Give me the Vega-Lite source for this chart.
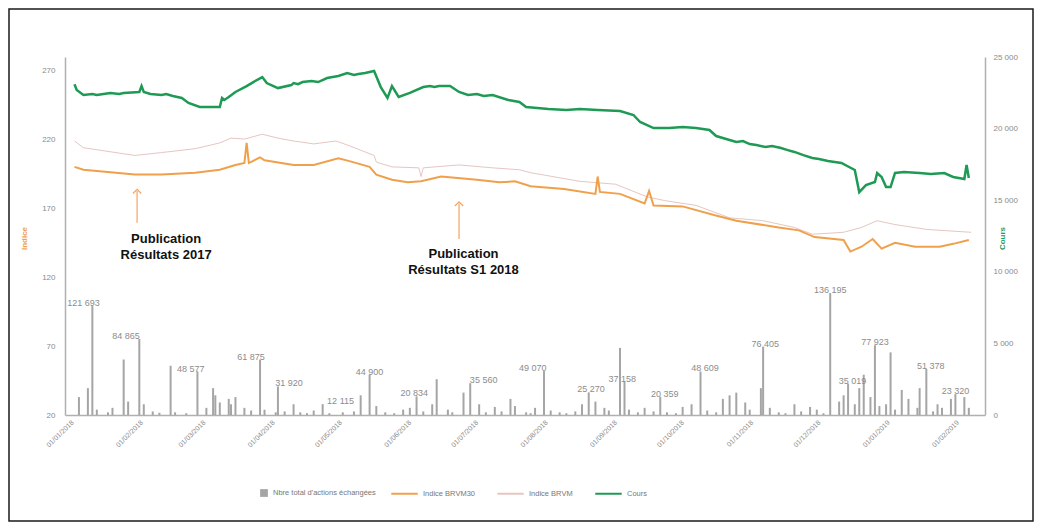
{
  "$schema": "https://vega.github.io/schema/vega-lite/v6.json",
  "width": 1024,
  "height": 512,
  "autosize": {"type": "none"},
  "padding": {"left": 9, "top": 9, "right": 9, "bottom": 10},
  "background": "white",
  "config": {
    "view": {"stroke": "#1a1a1a", "strokeWidth": 1.5},
    "locale": {"number": {"decimal": ",", "thousands": " ", "grouping": [3], "currency": ["", " €"]}},
    "font": "Liberation Sans"
  },
  "datasets": {
    "bars": [
      {"date": "2018-01-04", "vol": 20000}, {"date": "2018-01-08", "vol": 30000}, {"date": "2018-01-10", "vol": 121693, "lab": 1, "ldate": "2018-01-06"},
      {"date": "2018-01-12", "vol": 6000}, {"date": "2018-01-17", "vol": 3000}, {"date": "2018-01-19", "vol": 8000},
      {"date": "2018-01-24", "vol": 62000}, {"date": "2018-01-26", "vol": 15000}, {"date": "2018-01-31", "vol": 84865, "lab": 1, "ldate": "2018-01-25"},
      {"date": "2018-02-02", "vol": 12000}, {"date": "2018-02-06", "vol": 4000}, {"date": "2018-02-09", "vol": 2500},
      {"date": "2018-02-14", "vol": 55000}, {"date": "2018-02-16", "vol": 3000}, {"date": "2018-02-21", "vol": 2000},
      {"date": "2018-02-26", "vol": 48577, "lab": 1, "ldate": "2018-02-23"}, {"date": "2018-03-02", "vol": 8000}, {"date": "2018-03-05", "vol": 30000},
      {"date": "2018-03-06", "vol": 22000}, {"date": "2018-03-08", "vol": 14000}, {"date": "2018-03-12", "vol": 18000},
      {"date": "2018-03-13", "vol": 12000}, {"date": "2018-03-15", "vol": 20000}, {"date": "2018-03-19", "vol": 8000},
      {"date": "2018-03-22", "vol": 5000}, {"date": "2018-03-26", "vol": 61875, "lab": 1, "ldate": "2018-03-22"}, {"date": "2018-03-28", "vol": 6000},
      {"date": "2018-04-02", "vol": 3000}, {"date": "2018-04-03", "vol": 31920, "lab": 1, "ldate": "2018-04-08"}, {"date": "2018-04-06", "vol": 4000},
      {"date": "2018-04-10", "vol": 12000}, {"date": "2018-04-13", "vol": 3000}, {"date": "2018-04-16", "vol": 2000},
      {"date": "2018-04-19", "vol": 5000}, {"date": "2018-04-23", "vol": 12115, "lab": 1, "ldate": "2018-05-01"}, {"date": "2018-04-26", "vol": 2000},
      {"date": "2018-05-02", "vol": 3000}, {"date": "2018-05-07", "vol": 4000}, {"date": "2018-05-10", "vol": 22000},
      {"date": "2018-05-14", "vol": 44900, "lab": 1, "ldate": "2018-05-14"}, {"date": "2018-05-17", "vol": 10000}, {"date": "2018-05-21", "vol": 3000},
      {"date": "2018-05-25", "vol": 2000}, {"date": "2018-05-29", "vol": 6000}, {"date": "2018-06-01", "vol": 8000},
      {"date": "2018-06-04", "vol": 20834, "lab": 1, "ldate": "2018-06-03"}, {"date": "2018-06-07", "vol": 4000}, {"date": "2018-06-11", "vol": 12000},
      {"date": "2018-06-13", "vol": 40000}, {"date": "2018-06-18", "vol": 6000}, {"date": "2018-06-20", "vol": 3000},
      {"date": "2018-06-25", "vol": 25000}, {"date": "2018-06-28", "vol": 35560, "lab": 1, "ldate": "2018-07-04"}, {"date": "2018-07-02", "vol": 12000},
      {"date": "2018-07-05", "vol": 3000}, {"date": "2018-07-09", "vol": 9000}, {"date": "2018-07-12", "vol": 4000},
      {"date": "2018-07-16", "vol": 18000}, {"date": "2018-07-18", "vol": 10000}, {"date": "2018-07-23", "vol": 3000},
      {"date": "2018-07-25", "vol": 2000}, {"date": "2018-07-27", "vol": 8000}, {"date": "2018-07-31", "vol": 49070, "lab": 1, "ldate": "2018-07-26"},
      {"date": "2018-08-03", "vol": 5000}, {"date": "2018-08-07", "vol": 3000}, {"date": "2018-08-10", "vol": 2000},
      {"date": "2018-08-14", "vol": 4000}, {"date": "2018-08-17", "vol": 12000}, {"date": "2018-08-20", "vol": 25270, "lab": 1, "ldate": "2018-08-21"},
      {"date": "2018-08-23", "vol": 15000}, {"date": "2018-08-27", "vol": 8000}, {"date": "2018-08-29", "vol": 5000},
      {"date": "2018-09-03", "vol": 75000}, {"date": "2018-09-05", "vol": 37158, "lab": 1, "ldate": "2018-09-04"}, {"date": "2018-09-07", "vol": 6000},
      {"date": "2018-09-11", "vol": 3000}, {"date": "2018-09-14", "vol": 8000}, {"date": "2018-09-18", "vol": 4000},
      {"date": "2018-09-21", "vol": 20359, "lab": 1, "ldate": "2018-09-23"}, {"date": "2018-09-24", "vol": 3000}, {"date": "2018-09-28", "vol": 2000},
      {"date": "2018-10-01", "vol": 9000}, {"date": "2018-10-05", "vol": 12000}, {"date": "2018-10-09", "vol": 48609, "lab": 1, "ldate": "2018-10-11"},
      {"date": "2018-10-12", "vol": 5000}, {"date": "2018-10-16", "vol": 3000}, {"date": "2018-10-19", "vol": 18000},
      {"date": "2018-10-22", "vol": 22000}, {"date": "2018-10-25", "vol": 25000}, {"date": "2018-10-29", "vol": 14000},
      {"date": "2018-10-31", "vol": 6000}, {"date": "2018-11-05", "vol": 30000}, {"date": "2018-11-06", "vol": 76405, "lab": 1, "ldate": "2018-11-07"},
      {"date": "2018-11-09", "vol": 8000}, {"date": "2018-11-13", "vol": 3000}, {"date": "2018-11-16", "vol": 2000},
      {"date": "2018-11-20", "vol": 12000}, {"date": "2018-11-23", "vol": 4000}, {"date": "2018-11-27", "vol": 9000},
      {"date": "2018-11-30", "vol": 6000}, {"date": "2018-12-03", "vol": 2000}, {"date": "2018-12-06", "vol": 136195, "lab": 1, "ldate": "2018-12-06"},
      {"date": "2018-12-10", "vol": 15000}, {"date": "2018-12-12", "vol": 22000}, {"date": "2018-12-14", "vol": 35019, "lab": 1, "ldate": "2018-12-16"},
      {"date": "2018-12-17", "vol": 12000}, {"date": "2018-12-19", "vol": 30000}, {"date": "2018-12-21", "vol": 45000},
      {"date": "2018-12-24", "vol": 20000}, {"date": "2018-12-26", "vol": 77923, "lab": 1, "ldate": "2018-12-26"}, {"date": "2018-12-28", "vol": 10000},
      {"date": "2018-12-31", "vol": 12000}, {"date": "2019-01-02", "vol": 70000}, {"date": "2019-01-04", "vol": 6000},
      {"date": "2019-01-07", "vol": 28000}, {"date": "2019-01-10", "vol": 18000}, {"date": "2019-01-14", "vol": 8000},
      {"date": "2019-01-15", "vol": 30000}, {"date": "2019-01-18", "vol": 51378, "lab": 1, "ldate": "2019-01-20"}, {"date": "2019-01-21", "vol": 4000},
      {"date": "2019-01-23", "vol": 12000}, {"date": "2019-01-25", "vol": 8000}, {"date": "2019-01-29", "vol": 18000},
      {"date": "2019-01-31", "vol": 23320, "lab": 1, "ldate": "2019-01-31"}, {"date": "2019-02-04", "vol": 20000}, {"date": "2019-02-06", "vol": 8000}
    ],
    "lines": [
      {"serie": "Cours", "date": "2018-01-02", "v": 23100}, {"serie": "Cours", "date": "2018-01-03", "v": 22700},
      {"serie": "Cours", "date": "2018-01-06", "v": 22350}, {"serie": "Cours", "date": "2018-01-10", "v": 22420},
      {"serie": "Cours", "date": "2018-01-12", "v": 22350}, {"serie": "Cours", "date": "2018-01-15", "v": 22420},
      {"serie": "Cours", "date": "2018-01-18", "v": 22490}, {"serie": "Cours", "date": "2018-01-22", "v": 22420},
      {"serie": "Cours", "date": "2018-01-24", "v": 22490}, {"serie": "Cours", "date": "2018-01-31", "v": 22560},
      {"serie": "Cours", "date": "2018-02-01", "v": 22970}, {"serie": "Cours", "date": "2018-02-02", "v": 22560},
      {"serie": "Cours", "date": "2018-02-05", "v": 22420}, {"serie": "Cours", "date": "2018-02-10", "v": 22350},
      {"serie": "Cours", "date": "2018-02-12", "v": 22420}, {"serie": "Cours", "date": "2018-02-15", "v": 22280},
      {"serie": "Cours", "date": "2018-02-19", "v": 22140}, {"serie": "Cours", "date": "2018-02-22", "v": 21790},
      {"serie": "Cours", "date": "2018-02-27", "v": 21510}, {"serie": "Cours", "date": "2018-03-08", "v": 21510},
      {"serie": "Cours", "date": "2018-03-09", "v": 22140}, {"serie": "Cours", "date": "2018-03-10", "v": 22000},
      {"serie": "Cours", "date": "2018-03-12", "v": 22210}, {"serie": "Cours", "date": "2018-03-15", "v": 22560},
      {"serie": "Cours", "date": "2018-03-20", "v": 22970}, {"serie": "Cours", "date": "2018-03-23", "v": 23250},
      {"serie": "Cours", "date": "2018-03-27", "v": 23600}, {"serie": "Cours", "date": "2018-03-29", "v": 23180},
      {"serie": "Cours", "date": "2018-04-03", "v": 22830}, {"serie": "Cours", "date": "2018-04-09", "v": 23040},
      {"serie": "Cours", "date": "2018-04-10", "v": 23180}, {"serie": "Cours", "date": "2018-04-12", "v": 23100},
      {"serie": "Cours", "date": "2018-04-14", "v": 23250}, {"serie": "Cours", "date": "2018-04-18", "v": 23320},
      {"serie": "Cours", "date": "2018-04-21", "v": 23250}, {"serie": "Cours", "date": "2018-04-25", "v": 23530},
      {"serie": "Cours", "date": "2018-04-30", "v": 23670}, {"serie": "Cours", "date": "2018-05-04", "v": 23880},
      {"serie": "Cours", "date": "2018-05-07", "v": 23740}, {"serie": "Cours", "date": "2018-05-09", "v": 23810},
      {"serie": "Cours", "date": "2018-05-12", "v": 23880}, {"serie": "Cours", "date": "2018-05-16", "v": 24020},
      {"serie": "Cours", "date": "2018-05-19", "v": 22900}, {"serie": "Cours", "date": "2018-05-22", "v": 22140},
      {"serie": "Cours", "date": "2018-05-24", "v": 22970}, {"serie": "Cours", "date": "2018-05-27", "v": 22210},
      {"serie": "Cours", "date": "2018-06-01", "v": 22490}, {"serie": "Cours", "date": "2018-06-07", "v": 22900},
      {"serie": "Cours", "date": "2018-06-10", "v": 22970}, {"serie": "Cours", "date": "2018-06-12", "v": 22900},
      {"serie": "Cours", "date": "2018-06-14", "v": 22970}, {"serie": "Cours", "date": "2018-06-19", "v": 22970},
      {"serie": "Cours", "date": "2018-06-23", "v": 22560}, {"serie": "Cours", "date": "2018-06-27", "v": 22350},
      {"serie": "Cours", "date": "2018-07-01", "v": 22420}, {"serie": "Cours", "date": "2018-07-04", "v": 22280},
      {"serie": "Cours", "date": "2018-07-08", "v": 22350}, {"serie": "Cours", "date": "2018-07-15", "v": 22000},
      {"serie": "Cours", "date": "2018-07-20", "v": 21860}, {"serie": "Cours", "date": "2018-07-23", "v": 21510},
      {"serie": "Cours", "date": "2018-08-02", "v": 21370}, {"serie": "Cours", "date": "2018-08-10", "v": 21300},
      {"serie": "Cours", "date": "2018-08-16", "v": 21370}, {"serie": "Cours", "date": "2018-08-24", "v": 21300},
      {"serie": "Cours", "date": "2018-09-03", "v": 21230}, {"serie": "Cours", "date": "2018-09-09", "v": 20950},
      {"serie": "Cours", "date": "2018-09-12", "v": 20460}, {"serie": "Cours", "date": "2018-09-18", "v": 20040},
      {"serie": "Cours", "date": "2018-09-25", "v": 20040}, {"serie": "Cours", "date": "2018-10-01", "v": 20110},
      {"serie": "Cours", "date": "2018-10-07", "v": 20040}, {"serie": "Cours", "date": "2018-10-13", "v": 19900},
      {"serie": "Cours", "date": "2018-10-16", "v": 19480}, {"serie": "Cours", "date": "2018-10-22", "v": 19200},
      {"serie": "Cours", "date": "2018-10-25", "v": 19060}, {"serie": "Cours", "date": "2018-10-28", "v": 19130},
      {"serie": "Cours", "date": "2018-10-31", "v": 18920}, {"serie": "Cours", "date": "2018-11-03", "v": 18850},
      {"serie": "Cours", "date": "2018-11-07", "v": 18710}, {"serie": "Cours", "date": "2018-11-10", "v": 18780},
      {"serie": "Cours", "date": "2018-11-14", "v": 18640}, {"serie": "Cours", "date": "2018-11-17", "v": 18500},
      {"serie": "Cours", "date": "2018-11-20", "v": 18370}, {"serie": "Cours", "date": "2018-11-24", "v": 18150},
      {"serie": "Cours", "date": "2018-11-28", "v": 17950}, {"serie": "Cours", "date": "2018-12-01", "v": 17880},
      {"serie": "Cours", "date": "2018-12-05", "v": 17740}, {"serie": "Cours", "date": "2018-12-11", "v": 17600},
      {"serie": "Cours", "date": "2018-12-17", "v": 17110}, {"serie": "Cours", "date": "2018-12-19", "v": 15570},
      {"serie": "Cours", "date": "2018-12-22", "v": 16060}, {"serie": "Cours", "date": "2018-12-26", "v": 16270},
      {"serie": "Cours", "date": "2018-12-27", "v": 16900}, {"serie": "Cours", "date": "2018-12-29", "v": 16620},
      {"serie": "Cours", "date": "2018-12-31", "v": 15920}, {"serie": "Cours", "date": "2019-01-02", "v": 15920},
      {"serie": "Cours", "date": "2019-01-04", "v": 16900}, {"serie": "Cours", "date": "2019-01-08", "v": 16970},
      {"serie": "Cours", "date": "2019-01-15", "v": 16900}, {"serie": "Cours", "date": "2019-01-20", "v": 16830},
      {"serie": "Cours", "date": "2019-01-26", "v": 16900}, {"serie": "Cours", "date": "2019-01-30", "v": 16620},
      {"serie": "Cours", "date": "2019-02-04", "v": 16480}, {"serie": "Cours", "date": "2019-02-05", "v": 17460},
      {"serie": "Cours", "date": "2019-02-06", "v": 16550},

      {"serie": "Indice BRVM30", "date": "2018-01-02", "v": 200.2}, {"serie": "Indice BRVM30", "date": "2018-01-06", "v": 198.1},
      {"serie": "Indice BRVM30", "date": "2018-01-29", "v": 194.6}, {"serie": "Indice BRVM30", "date": "2018-02-10", "v": 194.6},
      {"serie": "Indice BRVM30", "date": "2018-02-25", "v": 196.0}, {"serie": "Indice BRVM30", "date": "2018-03-08", "v": 198.1},
      {"serie": "Indice BRVM30", "date": "2018-03-15", "v": 201.6}, {"serie": "Indice BRVM30", "date": "2018-03-19", "v": 203.0},
      {"serie": "Indice BRVM30", "date": "2018-03-20", "v": 217.6}, {"serie": "Indice BRVM30", "date": "2018-03-21", "v": 203.0},
      {"serie": "Indice BRVM30", "date": "2018-03-26", "v": 207.1}, {"serie": "Indice BRVM30", "date": "2018-03-28", "v": 205.0},
      {"serie": "Indice BRVM30", "date": "2018-04-10", "v": 201.6}, {"serie": "Indice BRVM30", "date": "2018-04-19", "v": 201.6},
      {"serie": "Indice BRVM30", "date": "2018-04-30", "v": 206.4}, {"serie": "Indice BRVM30", "date": "2018-05-05", "v": 204.4},
      {"serie": "Indice BRVM30", "date": "2018-05-14", "v": 200.2}, {"serie": "Indice BRVM30", "date": "2018-05-17", "v": 194.6},
      {"serie": "Indice BRVM30", "date": "2018-05-24", "v": 190.8}, {"serie": "Indice BRVM30", "date": "2018-05-31", "v": 189.0},
      {"serie": "Indice BRVM30", "date": "2018-06-06", "v": 189.7}, {"serie": "Indice BRVM30", "date": "2018-06-15", "v": 193.2},
      {"serie": "Indice BRVM30", "date": "2018-07-01", "v": 190.8}, {"serie": "Indice BRVM30", "date": "2018-07-11", "v": 189.0},
      {"serie": "Indice BRVM30", "date": "2018-07-18", "v": 189.7}, {"serie": "Indice BRVM30", "date": "2018-07-25", "v": 186.2},
      {"serie": "Indice BRVM30", "date": "2018-08-09", "v": 184.1}, {"serie": "Indice BRVM30", "date": "2018-08-23", "v": 180.6},
      {"serie": "Indice BRVM30", "date": "2018-08-24", "v": 193.2}, {"serie": "Indice BRVM30", "date": "2018-08-25", "v": 182.0},
      {"serie": "Indice BRVM30", "date": "2018-09-03", "v": 180.6}, {"serie": "Indice BRVM30", "date": "2018-09-14", "v": 173.6},
      {"serie": "Indice BRVM30", "date": "2018-09-16", "v": 182.7}, {"serie": "Indice BRVM30", "date": "2018-09-18", "v": 172.2},
      {"serie": "Indice BRVM30", "date": "2018-10-01", "v": 171.5}, {"serie": "Indice BRVM30", "date": "2018-10-15", "v": 165.2},
      {"serie": "Indice BRVM30", "date": "2018-10-25", "v": 161.1}, {"serie": "Indice BRVM30", "date": "2018-11-13", "v": 156.2},
      {"serie": "Indice BRVM30", "date": "2018-11-22", "v": 154.1}, {"serie": "Indice BRVM30", "date": "2018-11-29", "v": 149.2},
      {"serie": "Indice BRVM30", "date": "2018-12-12", "v": 147.1}, {"serie": "Indice BRVM30", "date": "2018-12-15", "v": 138.7},
      {"serie": "Indice BRVM30", "date": "2018-12-20", "v": 142.2}, {"serie": "Indice BRVM30", "date": "2018-12-25", "v": 147.8},
      {"serie": "Indice BRVM30", "date": "2018-12-29", "v": 140.8}, {"serie": "Indice BRVM30", "date": "2019-01-04", "v": 145.0},
      {"serie": "Indice BRVM30", "date": "2019-01-13", "v": 142.2}, {"serie": "Indice BRVM30", "date": "2019-01-24", "v": 142.2},
      {"serie": "Indice BRVM30", "date": "2019-01-30", "v": 144.3}, {"serie": "Indice BRVM30", "date": "2019-02-06", "v": 147.1},

      {"serie": "Indice BRVM", "date": "2018-01-02", "v": 219.0}, {"serie": "Indice BRVM", "date": "2018-01-06", "v": 214.1},
      {"serie": "Indice BRVM", "date": "2018-01-29", "v": 208.5}, {"serie": "Indice BRVM", "date": "2018-02-10", "v": 210.6},
      {"serie": "Indice BRVM", "date": "2018-02-25", "v": 213.4}, {"serie": "Indice BRVM", "date": "2018-03-08", "v": 217.6},
      {"serie": "Indice BRVM", "date": "2018-03-13", "v": 221.1}, {"serie": "Indice BRVM", "date": "2018-03-19", "v": 220.4},
      {"serie": "Indice BRVM", "date": "2018-03-27", "v": 223.9}, {"serie": "Indice BRVM", "date": "2018-04-03", "v": 221.1},
      {"serie": "Indice BRVM", "date": "2018-04-10", "v": 219.0}, {"serie": "Indice BRVM", "date": "2018-04-19", "v": 216.9},
      {"serie": "Indice BRVM", "date": "2018-04-29", "v": 219.0}, {"serie": "Indice BRVM", "date": "2018-05-05", "v": 215.5},
      {"serie": "Indice BRVM", "date": "2018-05-16", "v": 208.5}, {"serie": "Indice BRVM", "date": "2018-05-17", "v": 203.7},
      {"serie": "Indice BRVM", "date": "2018-05-24", "v": 200.2}, {"serie": "Indice BRVM", "date": "2018-06-05", "v": 199.5},
      {"serie": "Indice BRVM", "date": "2018-06-06", "v": 193.2}, {"serie": "Indice BRVM", "date": "2018-06-07", "v": 199.5},
      {"serie": "Indice BRVM", "date": "2018-06-23", "v": 201.6}, {"serie": "Indice BRVM", "date": "2018-07-08", "v": 199.5},
      {"serie": "Indice BRVM", "date": "2018-07-20", "v": 198.1}, {"serie": "Indice BRVM", "date": "2018-07-25", "v": 196.0},
      {"serie": "Indice BRVM", "date": "2018-08-16", "v": 189.7}, {"serie": "Indice BRVM", "date": "2018-09-01", "v": 187.6},
      {"serie": "Indice BRVM", "date": "2018-09-15", "v": 178.5}, {"serie": "Indice BRVM", "date": "2018-09-23", "v": 175.7},
      {"serie": "Indice BRVM", "date": "2018-10-07", "v": 172.2}, {"serie": "Indice BRVM", "date": "2018-10-22", "v": 163.2},
      {"serie": "Indice BRVM", "date": "2018-11-06", "v": 161.1}, {"serie": "Indice BRVM", "date": "2018-11-20", "v": 156.2},
      {"serie": "Indice BRVM", "date": "2018-11-28", "v": 151.3}, {"serie": "Indice BRVM", "date": "2018-12-12", "v": 152.7},
      {"serie": "Indice BRVM", "date": "2018-12-20", "v": 156.2}, {"serie": "Indice BRVM", "date": "2018-12-27", "v": 161.1},
      {"serie": "Indice BRVM", "date": "2019-01-04", "v": 158.3}, {"serie": "Indice BRVM", "date": "2019-01-18", "v": 154.8},
      {"serie": "Indice BRVM", "date": "2019-02-07", "v": 152.7}
    ],
    "notes": [
      {"date": "2018-01-30", "y1": 182.7, "y2": 159.7, "tdate": "2018-02-12", "ty": 152, "text": "Publication\nRésultats 2017"},
      {"date": "2018-06-23", "y1": 173.6, "y2": 147.8, "tdate": "2018-06-25", "ty": 141.5, "text": "Publication\nRésultats S1 2018"}
    ]
  },
  "encoding": {
    "x": {
      "field": "date",
      "type": "temporal",
      "scale": {
        "type": "utc",
        "domain": [{"year": 2017, "month": 12, "date": 31, "utc": true}, {"year": 2019, "month": 2, "date": 11, "utc": true}],
        "range": [56, 976]
      },
      "axis": {
        "orient": "bottom",
        "offset": -106,
        "title": null,
        "format": "%d/%m/%Y",
        "tickCount": {"interval": "month", "step": 1},
        "labelAngle": -45,
        "labelAlign": "right",
        "labelBaseline": "middle",
        "labelFontSize": 7,
        "labelColor": "#8a8a8a",
        "labelPadding": 6,
        "labelOverlap": false,
        "labelBound": false,
        "ticks": false,
        "domainColor": "#b0b0b0",
        "domainWidth": 1.5,
        "grid": false
      }
    }
  },
  "layer": [
    {
      "data": {"name": "bars"},
      "layer": [
        {
          "mark": {"type": "bar", "width": 2},
          "encoding": {
            "y": {"field": "vol", "type": "quantitative", "scale": {"domain": [0, 400000], "range": [406, 48]}, "axis": null},
            "fill": {
              "datum": "Nbre total d'actions échangées",
              "type": "nominal",
              "scale": {"range": ["#a5a5a5"]},
              "legend": {"orient": "none", "legendX": 250, "legendY": 479, "title": null, "direction": "horizontal", "symbolType": "square", "symbolSize": 60, "labelFontSize": 7.5, "labelColor": "#777777"}
            }
          }
        },
        {
          "transform": [{"filter": "datum.lab == 1"}],
          "mark": {"type": "text", "dy": -3, "fontSize": 9, "color": "#8c8c8c"},
          "encoding": {
            "x": {"field": "ldate", "type": "temporal"},
            "y": {"field": "vol", "type": "quantitative"},
            "text": {"field": "vol", "type": "quantitative", "format": ",d"}
          }
        }
      ]
    },
    {
      "layer": [
        {
          "data": {"name": "lines"},
          "transform": [{"filter": "datum.serie == 'Indice BRVM'"}],
          "mark": {"type": "line", "strokeWidth": 1},
          "encoding": {
            "y": {
              "field": "v", "type": "quantitative",
              "scale": {"domain": [20, 270], "range": [406, 48]},
              "axis": {
                "orient": "left", "offset": -56, "title": "Indice", "titleColor": "#f0a04b", "titleFontSize": 8, "titleFontWeight": "bold",
                "titleAngle": -90, "titleX": -37, "titleY": 229, "values": [20, 70, 120, 170, 220, 270],
                "labelFontSize": 8, "labelColor": "#8a8a8a", "labelPadding": 10, "ticks": false,
                "domainColor": "#b0b0b0", "domainWidth": 1.5, "grid": false
              }
            },
            "stroke": {
              "field": "serie", "type": "nominal",
              "scale": {"domain": ["Indice BRVM30", "Indice BRVM", "Cours"], "range": ["#f0a04b", "#e6c6c0", "#1f9a55"]},
              "legend": {"orient": "none", "legendX": 381, "legendY": 470, "title": null, "direction": "horizontal", "symbolType": "stroke", "symbolSize": 700, "symbolStrokeWidth": 2, "labelFontSize": 7.5, "labelColor": "#777777", "columnPadding": 18, "labelOffset": 4}
            }
          }
        },
        {
          "data": {"name": "lines"},
          "transform": [{"filter": "datum.serie == 'Indice BRVM30'"}],
          "mark": {"type": "line", "strokeWidth": 2},
          "encoding": {
            "y": {"field": "v", "type": "quantitative"},
            "stroke": {"field": "serie", "type": "nominal"}
          }
        },
        {
          "data": {"name": "notes"},
          "mark": {"type": "rule", "color": "#f5a45d", "strokeWidth": 1.2},
          "encoding": {
            "y": {"field": "y1", "type": "quantitative"},
            "y2": {"field": "y2"}
          }
        },
        {
          "data": {"name": "notes"},
          "mark": {"type": "point", "shape": "M-1,0.6L0,-0.4L1,0.6", "filled": false, "size": 70, "color": "#f5a45d", "strokeWidth": 1.2, "opacity": 1},
          "encoding": {
            "y": {"field": "y1", "type": "quantitative"}
          }
        },
        {
          "data": {"name": "notes"},
          "mark": {"type": "text", "fontWeight": "bold", "fontSize": 13, "lineBreak": "\n", "baseline": "top", "align": "center", "color": "#111111", "lineHeight": 16},
          "encoding": {
            "x": {"field": "tdate", "type": "temporal"},
            "y": {"field": "ty", "type": "quantitative"},
            "text": {"field": "text"}
          }
        }
      ]
    },
    {
      "data": {"name": "lines"},
      "transform": [{"filter": "datum.serie == 'Cours'"}],
      "mark": {"type": "line", "strokeWidth": 2.5},
      "encoding": {
        "y": {
          "field": "v", "type": "quantitative",
          "scale": {"domain": [0, 25000], "range": [406, 48]},
          "axis": {
            "orient": "right", "offset": -48, "title": "Cours", "titleColor": "#1f9a55", "titleFontSize": 8, "titleFontWeight": "bold",
            "titleAngle": -90, "titleX": 21, "titleY": 229, "values": [0, 5000, 10000, 15000, 20000, 25000], "format": ",d",
            "labelFontSize": 8, "labelColor": "#8a8a8a", "labelPadding": 8, "ticks": false,
            "domainColor": "#b0b0b0", "domainWidth": 1.5, "grid": false
          }
        },
        "stroke": {"field": "serie", "type": "nominal"}
      }
    }
  ],
  "resolve": {"scale": {"y": "independent"}}
}
